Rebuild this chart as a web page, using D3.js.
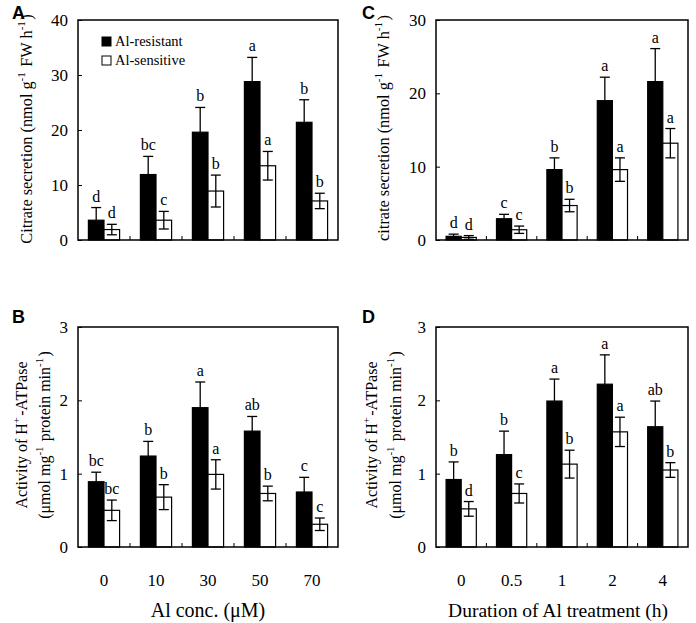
<!DOCTYPE html>
<html><head><meta charset="utf-8">
<script src="https://cdn.jsdelivr.net/npm/d3@7"></script>
<style>body{margin:0;background:#fff}svg{display:block}</style>
</head><body>
<svg id="c" width="696" height="623"></svg>
<script>
// ---------- data ----------
const concLabels = ["0", "10", "30", "50", "70"];
const durLabels = ["0", "0.5", "1", "2", "4"];
const seriesNames = ["Al-resistant", "Al-sensitive"];

// A: citrate secretion vs Al concentration
const citConcRes = [3.6, 11.9, 19.6, 28.8, 21.4];
const citConcResErr = [2.3, 3.3, 4.5, 4.4, 4.1];
const citConcSen = [1.9, 3.6, 8.9, 13.5, 7.1];
const citConcSenErr = [0.95, 1.6, 2.9, 2.6, 1.4];
const citConcResLet = ["d", "bc", "b", "a", "b"];
const citConcSenLet = ["d", "c", "b", "a", "b"];
const citConcTicks = [0, 10, 20, 30, 40];

// B: H+-ATPase vs Al concentration
const atpConcRes = [0.89, 1.24, 1.90, 1.58, 0.75];
const atpConcResErr = [0.13, 0.20, 0.35, 0.20, 0.20];
const atpConcSen = [0.50, 0.68, 0.99, 0.73, 0.31];
const atpConcSenErr = [0.14, 0.17, 0.20, 0.10, 0.085];
const atpConcResLet = ["bc", "b", "a", "ab", "c"];
const atpConcSenLet = ["bc", "b", "a", "b", "c"];
const atpTicks = [0, 1, 2, 3];

// C: citrate secretion vs duration
const citDurRes = [0.5, 2.9, 9.6, 19.0, 21.6];
const citDurResErr = [0.3, 0.6, 1.6, 3.2, 4.5];
const citDurSen = [0.35, 1.4, 4.7, 9.6, 13.2];
const citDurSenErr = [0.25, 0.5, 0.85, 1.6, 2.0];
const citDurResLet = ["d", "c", "b", "a", "a"];
const citDurSenLet = ["d", "c", "b", "a", "a"];
const citDurTicks = [0, 10, 20, 30];

// D: H+-ATPase vs duration
const atpDurRes = [0.92, 1.26, 1.99, 2.22, 1.64];
const atpDurResErr = [0.24, 0.32, 0.30, 0.40, 0.35];
const atpDurSen = [0.52, 0.73, 1.13, 1.57, 1.05];
const atpDurSenErr = [0.10, 0.13, 0.19, 0.20, 0.10];
const atpDurResLet = ["b", "b", "a", "a", "ab"];
const atpDurSenLet = ["d", "c", "b", "a", "b"];

// ---------- drawing ----------
const svg = d3.select("#c");
const SERIF = "'Liberation Serif','Times New Roman',serif";
const SANS = "'Liberation Sans',Arial,sans-serif";

function panel(o) {
  const g = svg.append("g");
  const x = d3.scaleBand().domain(o.cats).range([o.x0, o.x1]);
  const y = d3.scaleLinear().domain([0, o.ymax]).range([o.y1, o.y0]);
  const bw = x.bandwidth() * 0.3;
  const cap = 5;

  [[o.res, o.resErr, o.resLet, "#000", -1], [o.sen, o.senErr, o.senLet, "#fff", 0]].forEach(([vals, errs, lets, fill, off]) => {
    o.cats.forEach((c, i) => {
      const cx = x(c) + x.bandwidth() / 2 + off * bw;
      const mid = cx + bw / 2;
      g.append("rect").attr("x", cx).attr("y", y(vals[i]))
        .attr("width", bw).attr("height", y(0) - y(vals[i]))
        .attr("fill", fill).attr("stroke", "#000").attr("stroke-width", 1.2);
      const top = y(vals[i] + errs[i]);
      const bot = fill === "#000" ? y(vals[i]) : y(Math.max(0, vals[i] - errs[i]));
      g.append("line").attr("x1", mid).attr("x2", mid).attr("y1", top).attr("y2", bot)
        .attr("stroke", "#000").attr("stroke-width", 1.3);
      g.append("line").attr("x1", mid - cap).attr("x2", mid + cap).attr("y1", top).attr("y2", top)
        .attr("stroke", "#000").attr("stroke-width", 1.3);
      if (fill !== "#000") {
        g.append("line").attr("x1", mid - cap).attr("x2", mid + cap).attr("y1", bot).attr("y2", bot)
          .attr("stroke", "#000").attr("stroke-width", 1.3);
      }
      g.append("text").attr("x", mid).attr("y", top - 6)
        .attr("text-anchor", "middle").attr("font-family", SERIF).attr("font-size", 16).attr("fill", "#000")
        .text(lets[i]);
    });
  });

  g.append("rect").attr("x", o.x0).attr("y", o.y0).attr("width", o.x1 - o.x0).attr("height", o.y1 - o.y0)
    .attr("fill", "none").attr("stroke", "#000").attr("stroke-width", 1.5);

  const ya = d3.axisLeft(y).tickValues(o.ticks).tickSize(-4).tickPadding(10).tickFormat(d3.format("d"));
  const yg = g.append("g").attr("transform", `translate(${o.x0},0)`).call(ya);
  yg.select(".domain").remove();
  yg.selectAll("text").attr("font-family", SERIF).attr("font-size", 17).attr("fill", "#000");
  yg.selectAll("line").attr("stroke", "#000");

  o.cats.slice(1).forEach(c => {
    g.append("line").attr("x1", x(c)).attr("x2", x(c)).attr("y1", o.y1).attr("y2", o.y1 - 4)
      .attr("stroke", "#000").attr("stroke-width", 1);
  });
  if (o.showX) {
    o.cats.forEach(c => {
      g.append("text").attr("x", x(c) + x.bandwidth() / 2).attr("y", o.y1 + 39)
        .attr("text-anchor", "middle").attr("font-family", SERIF).attr("font-size", 17).text(c);
    });
  }

  g.append("text").attr("x", o.lx).attr("y", o.ly).attr("font-family", SANS)
    .attr("font-weight", "bold").attr("font-size", 18).text(o.letter);
  return { g, x, y };
}

function supText(parent, x, y, parts, size) {
  const t = parent.append("text").attr("transform", `translate(${x},${y}) rotate(-90)`)
    .attr("text-anchor", "middle").attr("font-family", SERIF).attr("font-size", size);
  parts.forEach(p => {
    if (p.sup) {
      t.append("tspan").attr("dy", -size * 0.45).attr("font-size", size * 0.68).text(p.t);
      t.append("tspan").attr("dy", size * 0.45).text("\u200A");
    } else {
      t.append("tspan").text(p.t);
    }
  });
  return t;
}

panel({ cats: concLabels, x0: 78, x1: 338, y0: 20, y1: 240, ymax: 40, ticks: citConcTicks,
  res: citConcRes, resErr: citConcResErr, sen: citConcSen, senErr: citConcSenErr,
  resLet: citConcResLet, senLet: citConcSenLet, showX: false, letter: "A", lx: 12, ly: 19 });
panel({ cats: durLabels, x0: 436, x1: 688, y0: 20, y1: 240, ymax: 30, ticks: citDurTicks,
  res: citDurRes, resErr: citDurResErr, sen: citDurSen, senErr: citDurSenErr,
  resLet: citDurResLet, senLet: citDurSenLet, showX: false, letter: "C", lx: 362, ly: 19 });
panel({ cats: concLabels, x0: 78, x1: 338, y0: 327, y1: 547, ymax: 3, ticks: atpTicks,
  res: atpConcRes, resErr: atpConcResErr, sen: atpConcSen, senErr: atpConcSenErr,
  resLet: atpConcResLet, senLet: atpConcSenLet, showX: true, letter: "B", lx: 12, ly: 323 });
panel({ cats: durLabels, x0: 436, x1: 688, y0: 327, y1: 547, ymax: 3, ticks: atpTicks,
  res: atpDurRes, resErr: atpDurResErr, sen: atpDurSen, senErr: atpDurSenErr,
  resLet: atpDurResLet, senLet: atpDurSenLet, showX: true, letter: "D", lx: 362, ly: 323 });

seriesNames.forEach((n, i) => {
  const ly = 37 + i * 19;
  svg.append("rect").attr("x", 102).attr("y", ly).attr("width", 9).attr("height", 9)
    .attr("fill", i === 0 ? "#000" : "#fff").attr("stroke", "#000").attr("stroke-width", 1);
  svg.append("text").attr("x", 115).attr("y", ly + 9).attr("font-family", SERIF).attr("font-size", 14.5).text(n);
});

supText(svg, 32, 129, [{ t: "Citrate secretion (nmol g" }, { t: "-1", sup: true }, { t: " FW h" }, { t: "-1", sup: true }, { t: ")" }], 16.3);
supText(svg, 389, 128, [{ t: "citrate secretion (nmol g" }, { t: "-1", sup: true }, { t: " FW h" }, { t: "-1", sup: true }, { t: ")" }], 16.3);
[[27, 50], [377, 401]].forEach(([a, b]) => {
  supText(svg, a, 435, [{ t: "Activity of H" }, { t: "+", sup: true }, { t: "-ATPase" }], 16);
  supText(svg, b, 435, [{ t: "(\u03BCmol mg" }, { t: "-1", sup: true }, { t: " protein min" }, { t: "-1", sup: true }, { t: ")" }], 16);
});

svg.append("text").attr("x", 208).attr("y", 617).attr("text-anchor", "middle")
  .attr("font-family", SERIF).attr("font-size", 20).text("Al conc. (\u03BCM)");
svg.append("text").attr("x", 558).attr("y", 617).attr("text-anchor", "middle")
  .attr("font-family", SERIF).attr("font-size", 19.5).text("Duration of Al treatment (h)");
</script>
</body></html>
